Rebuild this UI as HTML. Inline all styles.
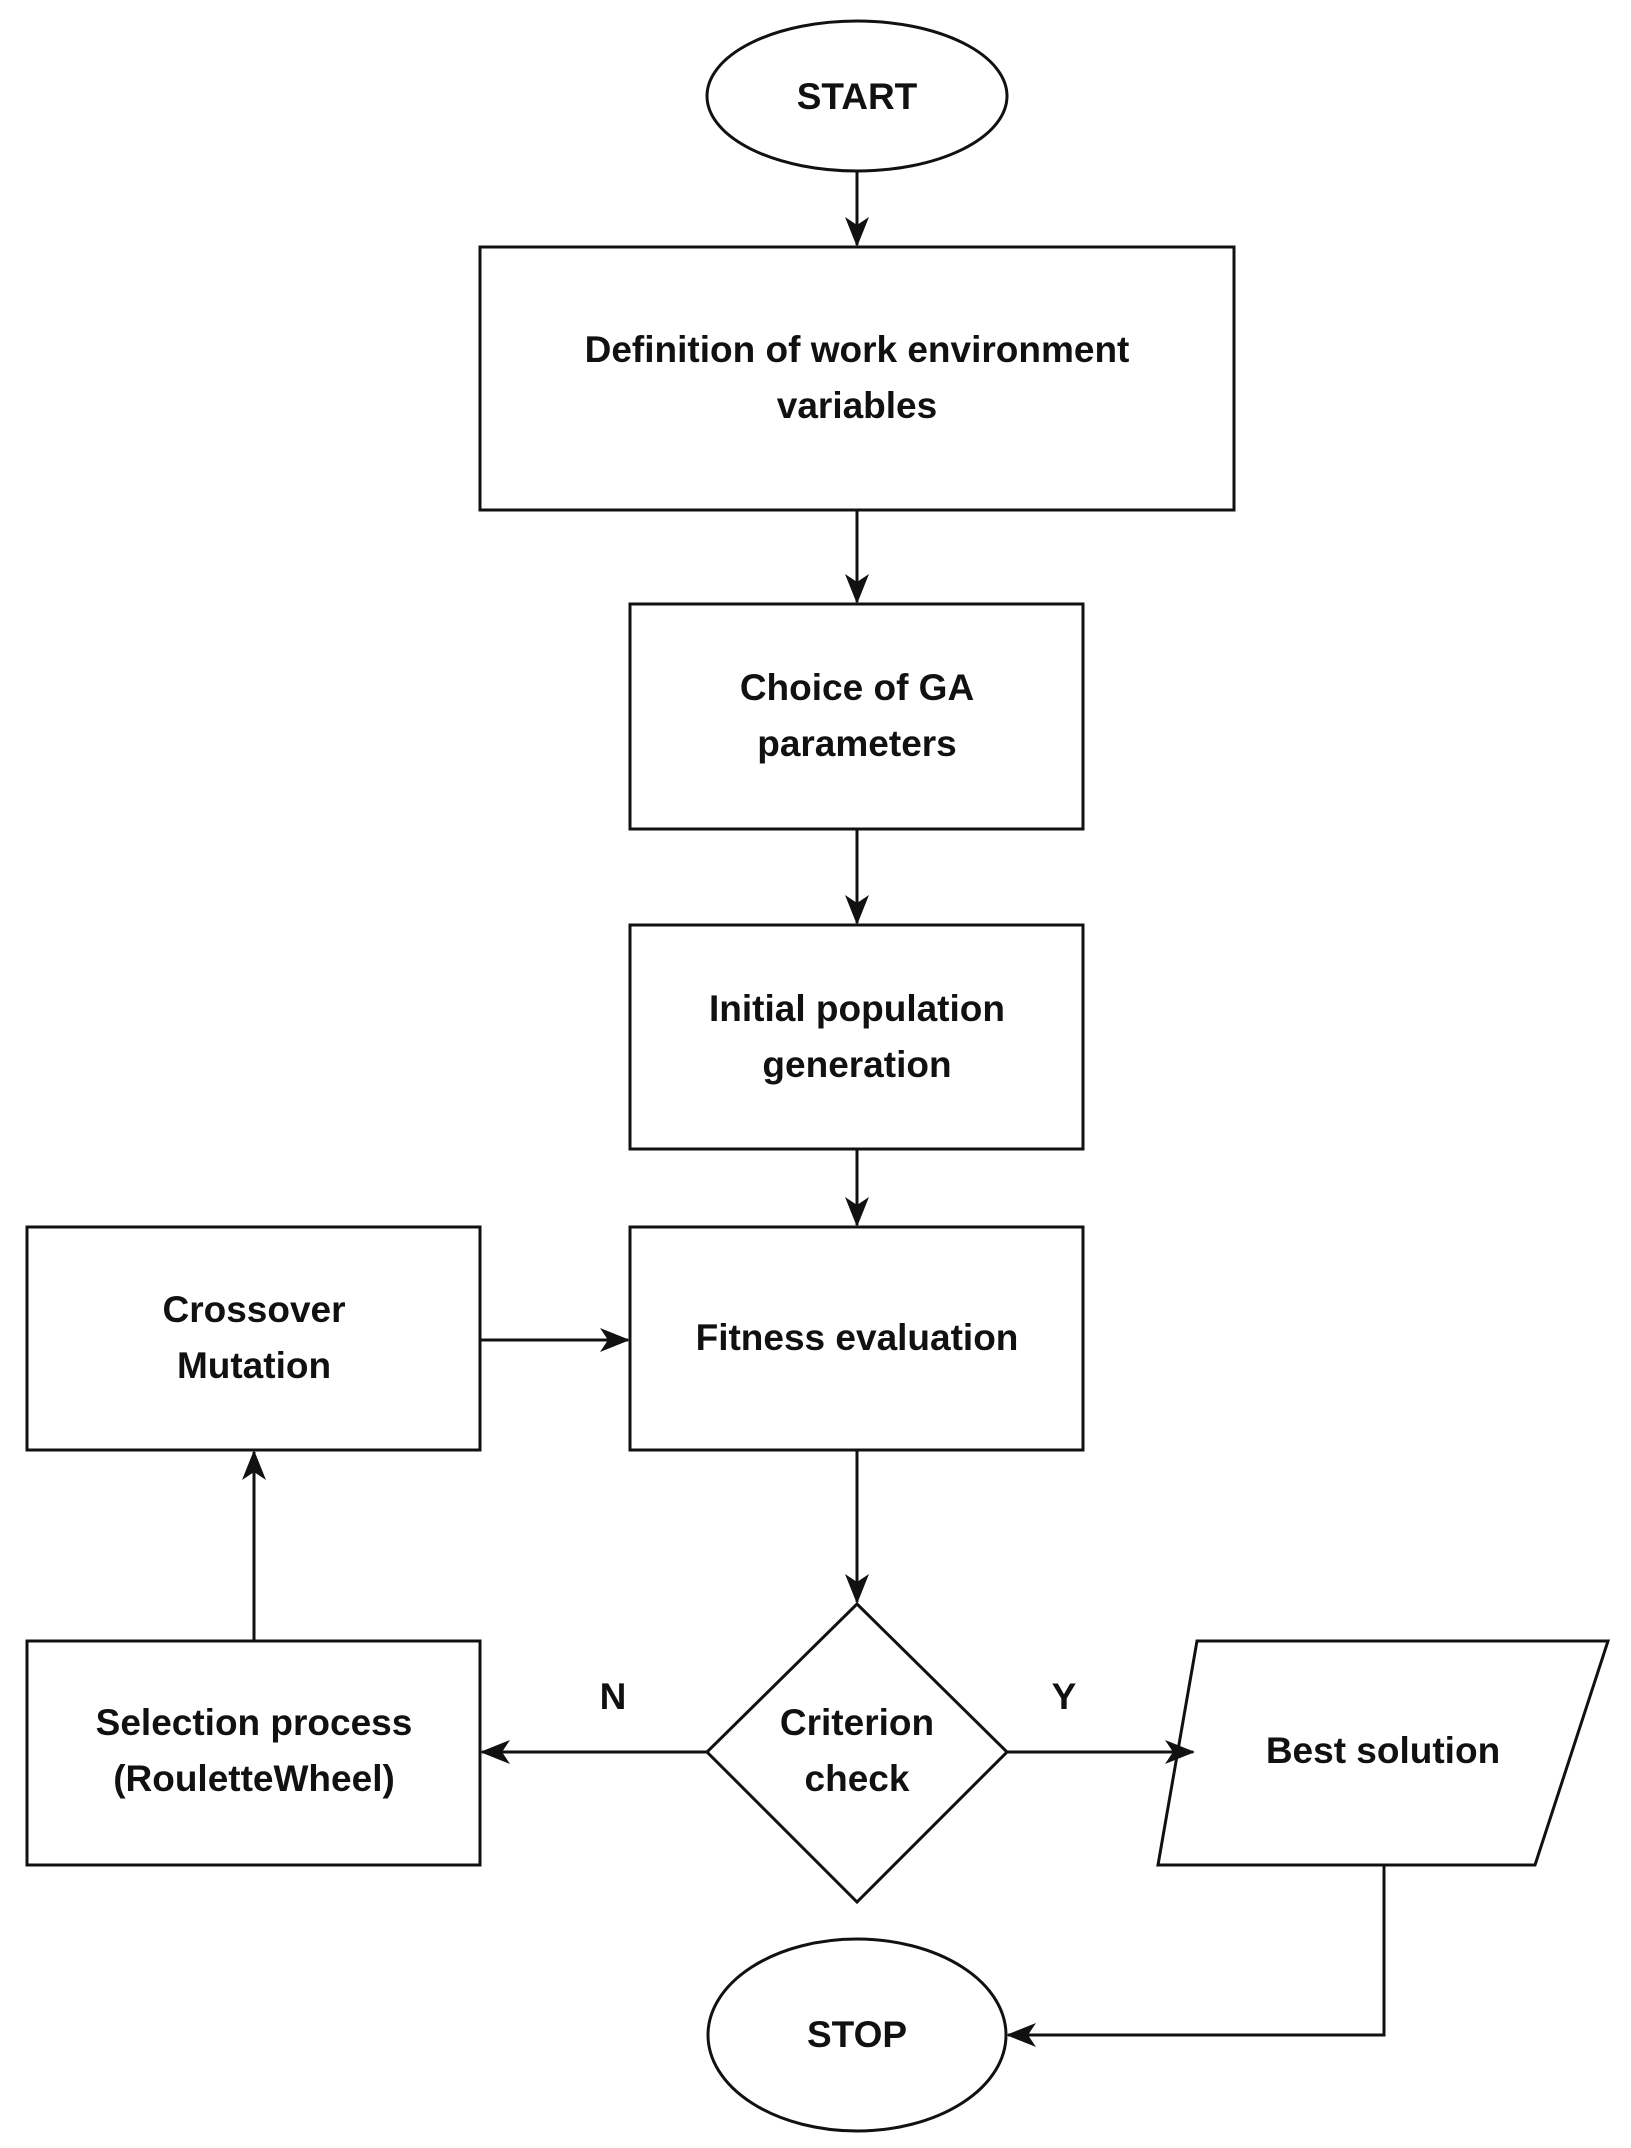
<!DOCTYPE html>
<html><head><meta charset="utf-8"><style>
html,body{margin:0;padding:0;background:#fff;}
svg{display:block;}
text{font-family:"Liberation Sans",sans-serif;font-weight:bold;font-size:37px;fill:#111;text-anchor:middle;}
</style></head><body>
<svg width="1631" height="2148" viewBox="0 0 1631 2148" xmlns="http://www.w3.org/2000/svg">
<defs><marker id="a" markerWidth="12" markerHeight="12" refX="10" refY="6" orient="auto" markerUnits="userSpaceOnUse" viewBox="0 0 12 12"><path d="M0,0 L12,6 L0,12 L4,6 z" fill="#111"/></marker>
<marker id="b" markerWidth="30" markerHeight="30" refX="28" refY="12" orient="auto" markerUnits="userSpaceOnUse" viewBox="0 0 30 24"><path d="M0,0 L30,12 L0,24 L8,12 z" fill="#111"/></marker></defs>
<g fill="none" stroke="#111" stroke-width="3">
<ellipse cx="857" cy="96" rx="150" ry="75"/>
<rect x="480" y="247" width="754" height="263"/>
<rect x="630" y="604" width="453" height="225"/>
<rect x="630" y="925" width="453" height="224"/>
<rect x="630" y="1227" width="453" height="223"/>
<rect x="27" y="1227" width="453" height="223"/>
<rect x="27" y="1641" width="453" height="224"/>
<polygon points="857,1604 1007,1752 857,1902 707,1752"/>
<polygon points="1197,1641 1608,1641 1535,1865 1158,1865"/>
<ellipse cx="857" cy="2035" rx="149" ry="96"/>
<line x1="857" y1="171" x2="857" y2="245" marker-end="url(#b)"/>
<line x1="857" y1="510" x2="857" y2="602" marker-end="url(#b)"/>
<line x1="857" y1="829" x2="857" y2="923" marker-end="url(#b)"/>
<line x1="857" y1="1149" x2="857" y2="1225" marker-end="url(#b)"/>
<line x1="857" y1="1450" x2="857" y2="1602" marker-end="url(#b)"/>
<line x1="480" y1="1340" x2="628" y2="1340" marker-end="url(#b)"/>
<line x1="254" y1="1641" x2="254" y2="1452" marker-end="url(#b)"/>
<line x1="707" y1="1752" x2="482" y2="1752" marker-end="url(#b)"/>
<line x1="1007" y1="1752" x2="1193" y2="1752" marker-end="url(#b)"/>
<polyline points="1384,1865 1384,2035 1008,2035" marker-end="url(#b)"/>
</g>
<text x="857" y="109">START</text>
<text x="857" y="362">Definition of work environment</text>
<text x="857" y="418">variables</text>
<text x="857" y="700">Choice of GA</text>
<text x="857" y="756">parameters</text>
<text x="857" y="1021">Initial population</text>
<text x="857" y="1077">generation</text>
<text x="857" y="1350">Fitness evaluation</text>
<text x="254" y="1322">Crossover</text>
<text x="254" y="1378">Mutation</text>
<text x="254" y="1735">Selection process</text>
<text x="254" y="1791">(RouletteWheel)</text>
<text x="857" y="1735">Criterion</text>
<text x="857" y="1791">check</text>
<text x="1383" y="1763">Best solution</text>
<text x="857" y="2047">STOP</text>
<text x="613" y="1709">N</text>
<text x="1064" y="1709">Y</text>
</svg>
</body></html>
